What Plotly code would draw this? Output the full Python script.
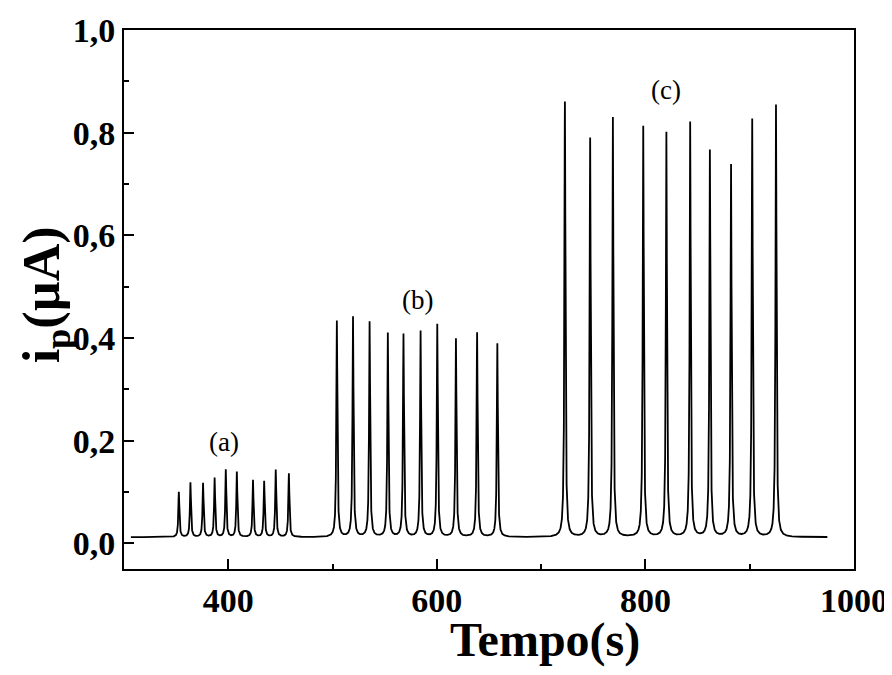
import numpy as np
import plotly.graph_objects as go

# Peak positions (s) and heights (uA)
peaks_a_t = [352.6, 363.7, 375.8, 386.9, 397.6, 408.2, 423.7, 434.4, 445.5, 458.1]
peaks_a_h = [0.100, 0.118, 0.117, 0.127, 0.143, 0.139, 0.123, 0.121, 0.143, 0.136]
peaks_b_t = [504.1, 519.6, 535.5, 553.0, 568.0, 584.4, 600.4, 618.3, 638.6, 658.0]
peaks_b_h = [0.433, 0.441, 0.431, 0.409, 0.407, 0.413, 0.426, 0.398, 0.410, 0.389]
peaks_c_t = [722.8, 747.0, 768.8, 797.9, 820.1, 842.9, 861.8, 882.1, 902.4, 925.2]
peaks_c_h = [0.860, 0.789, 0.829, 0.812, 0.800, 0.820, 0.765, 0.737, 0.826, 0.854]
baseline = 0.012
t_start, t_end = 306.6, 974.5

labels = ["(a)", "(b)", "(c)"]
label_t = [396, 581.5, 819.6]
label_y = [0.198, 0.475, 0.884]

x_ticks = [400, 600, 800, 1000]
y_ticks = [0.0, 0.2, 0.4, 0.6, 0.8, 1.0]

# Build the FIA signal: baseline plus narrow peaks
t = np.arange(t_start, t_end, 0.05)
all_t = peaks_a_t + peaks_b_t + peaks_c_t
all_h = peaks_a_h + peaks_b_h + peaks_c_h
g = 0.6
y = np.full_like(t, baseline)
for pt, ph in zip(all_t, all_h):
    y += (ph - baseline) * g**2 / ((t - pt)**2 + g**2)
t = np.concatenate([t, all_t]); y = np.concatenate([y, all_h])
order = np.argsort(t); t = t[order]; y = y[order]

fig = go.Figure()
fig.add_trace(go.Scatter(x=t, y=y, mode="lines",
                         line=dict(color="black", width=1.8), showlegend=False))

for lab, lx, ly in zip(labels, label_t, label_y):
    fig.add_annotation(x=lx, y=ly, text=lab, showarrow=False,
                       font=dict(family="Liberation Serif", size=27, color="black"))

# Axis titles
fig.add_annotation(xref="paper", yref="paper", x=0.577, y=-0.132,
                   xanchor="center", yanchor="middle", showarrow=False,
                   text="<b>Tempo(s)</b>",
                   font=dict(family="Liberation Serif", size=48, color="black"))
fig.add_annotation(xref="paper", yref="paper", x=-0.108, y=0.508,
                   xanchor="center", yanchor="middle", showarrow=False, textangle=-90,
                   text="<b>i<sub>p</sub>(µA)</b>",
                   font=dict(family="Liberation Serif", size=52, color="black"))

axis_font = dict(family="Liberation Serif", size=34, color="black")
# the page body has an 8px margin, so the figure is sized to fit the 892x675 window
fig.update_layout(
    width=884, height=659,
    margin=dict(l=116, r=38, t=22, b=98),
    plot_bgcolor="white", paper_bgcolor="white",
    font=dict(family="Liberation Serif", color="black"),
)
fig.update_xaxes(
    range=[300, 1000], tickmode="array", tickvals=x_ticks,
    ticktext=["<b>%d</b>" % v for v in x_ticks],
    ticks="inside", ticklen=10, tickwidth=2, tickcolor="black",
    minor=dict(tickvals=[500, 700, 900], ticks="inside", ticklen=5, tickwidth=2, tickcolor="black"),
    showline=True, linewidth=2, linecolor="black", mirror=True,
    showgrid=False, zeroline=False, tickfont=axis_font, automargin=False,
)
fig.update_yaxes(
    range=[-0.05, 1.0], tickmode="array", tickvals=y_ticks,
    ticktext=["<b>%s</b>" % ("%.1f" % v).replace(".", ",") for v in y_ticks],
    ticks="inside", ticklen=10, tickwidth=2, tickcolor="black",
    minor=dict(tickvals=[0.1, 0.3, 0.5, 0.7, 0.9], ticks="inside", ticklen=5, tickwidth=2, tickcolor="black"),
    showline=True, linewidth=2, linecolor="black", mirror=True,
    showgrid=False, zeroline=False, tickfont=axis_font, automargin=False,
)
fig.write_html("out.html")
